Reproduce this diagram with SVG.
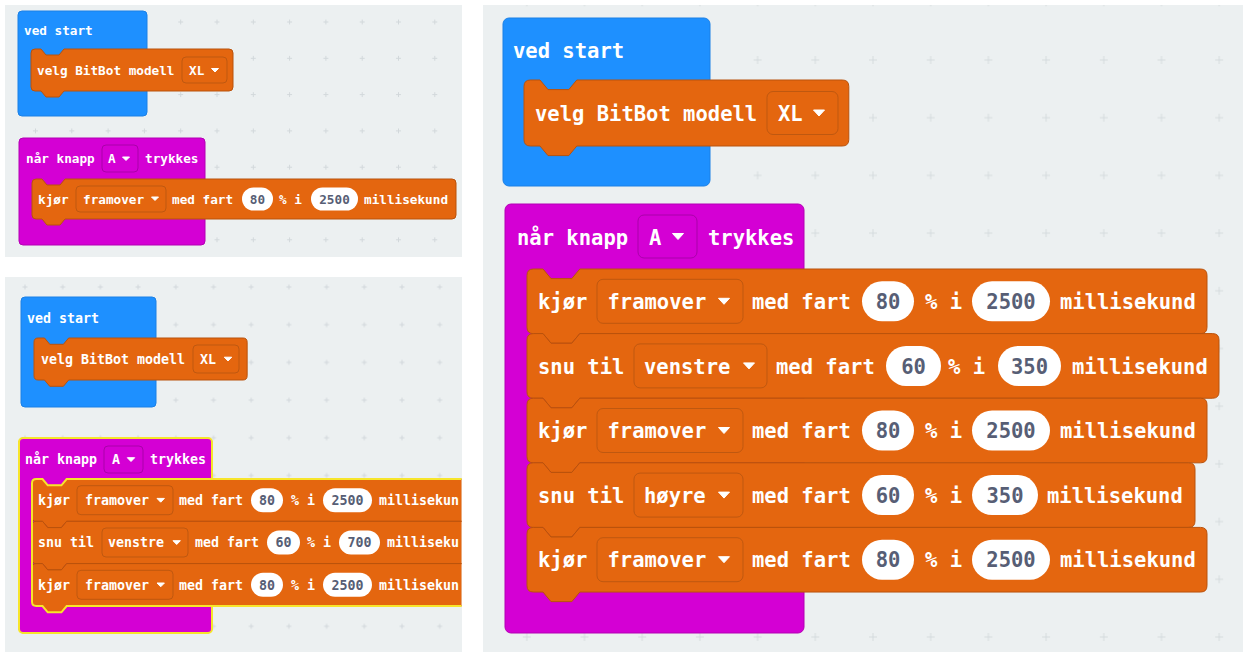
<svg xmlns="http://www.w3.org/2000/svg" width="1243" height="655" viewBox="0 0 1243 655">
<style>
.panel{fill:#ecf0f1}
.blue{fill:#1e90ff;stroke:#1b80e6;stroke-width:1}
.mag{fill:#d400d4;stroke:#b400b4;stroke-width:1}
.org{fill:#e4660f;stroke:#b9520c;stroke-width:1}
.dd{fill:#e4660f;stroke:#bf5810;stroke-width:1}
.ddm{fill:#d400d4;stroke:#aa00aa;stroke-width:1}
.oval{fill:#ffffff}
.tri{fill:#ffffff;stroke:#ffffff;stroke-linejoin:round}
.t{font-family:"DejaVu Sans Mono","Liberation Mono",monospace;font-weight:bold;fill:#ffffff}
.n{fill:#575e75;text-anchor:middle}
.f1{font-size:12.7px}
.f2{font-size:13.3px}
.f3{font-size:20.5px}
.sel{fill:none;stroke:#f7e52b;stroke-width:2}
</style>
<defs>
<pattern id="g1" patternUnits="userSpaceOnUse" x="17.35" y="3.85" width="36.3" height="36.3"><path d="M15.65,18.15h5M18.15,15.65v5" stroke="#d2d8db" stroke-width="1"/></pattern>
<pattern id="g2" patternUnits="userSpaceOnUse" x="6.15" y="268.15" width="37.7" height="37.7"><path d="M16.35,18.85h5M18.85,16.35v5" stroke="#d2d8db" stroke-width="1"/></pattern>
<pattern id="g3" patternUnits="userSpaceOnUse" x="844.15" y="31.15" width="57.7" height="57.7"><path d="M24.85,28.85h8M28.85,24.85v8" stroke="#d5dbde" stroke-width="1"/></pattern>
<clipPath id="c2"><rect x="5" y="277" width="456.5" height="375"/></clipPath>
</defs>

<rect width="1243" height="655" fill="#ffffff"/>

<!-- ===== Panel 1 ===== -->
<g id="panel-1">
<rect class="panel" x="5" y="5" width="457" height="252"/>
<rect x="5" y="5" width="457" height="252" fill="url(#g1)"/>
<g id="p1-ved-start">
<rect class="blue" x="18" y="11" width="129" height="105" rx="4"/>
<text class="t f1" x="24" y="35">ved start</text>
</g>
<g id="p1-velg">
<path class="org" transform="translate(31,49)" d="M0,4 Q0,0 4,0 H10 l5,6 h13 l5,-6 H198 Q202,0 202,4 V38 Q202,42 198,42 H33 l-5,6 h-13 l-5,-6 H4 Q0,42 0,38 Z"/>
<text class="t f1" x="37" y="74.5">velg BitBot modell</text>
<rect class="dd" x="182" y="57" width="45" height="26" rx="4"/>
<text class="t f1" x="189" y="74.5">XL</text>
<polygon class="tri" points="211.5,68.5 218.5,68.5 215,72"/>
</g>
<g id="p1-nar-knapp">
<rect class="mag" x="19" y="138" width="186" height="107" rx="4"/>
<text class="t f1" x="26" y="163">når knapp</text>
<rect class="ddm" x="102" y="145" width="36" height="27" rx="4"/>
<text class="t f1" x="108" y="163">A</text>
<polygon class="tri" points="122.5,157 129.5,157 126,160.5"/>
<text class="t f1" x="145" y="163">trykkes</text>
</g>
<g id="p1-kjor">
<path class="org" transform="translate(32,179)" d="M0,4 Q0,0 4,0 H10 l5,6 h13 l5,-6 H420 Q424,0 424,4 V36 Q424,40 420,40 H33 l-5,6 h-13 l-5,-6 H4 Q0,40 0,36 Z"/>
<text class="t f1" x="38" y="203.5">kjør</text>
<rect class="dd" x="76" y="186" width="90" height="26" rx="4"/>
<text class="t f1" x="83" y="203.5">framover</text>
<polygon class="tri" points="151.5,197 158.5,197 155,200.5"/>
<text class="t f1" x="172" y="203.5">med fart</text>
<rect class="oval" x="242" y="187.5" width="31" height="23" rx="11.5"/>
<text class="t f1 n" x="257.5" y="203.5">80</text>
<text class="t f1" x="279" y="203.5">% i</text>
<rect class="oval" x="311" y="187.5" width="47" height="23" rx="11.5"/>
<text class="t f1 n" x="334.5" y="203.5">2500</text>
<text class="t f1" x="364" y="203.5">millisekund</text>
</g>
</g>

<!-- ===== Panel 2 ===== -->
<g id="panel-2">
<rect class="panel" x="5" y="277" width="457" height="375"/>
<rect x="5" y="277" width="457" height="375" fill="url(#g2)"/>
<g clip-path="url(#c2)">
<g id="p2-ved-start">
<rect class="blue" x="21" y="297" width="135" height="110" rx="4"/>
<text class="t f2" x="27" y="323">ved start</text>
</g>
<g id="p2-velg">
<path class="org" vector-effect="non-scaling-stroke" transform="translate(34,338) scale(1.05)" d="M0,4 Q0,0 4,0 H10 l5,6 h13 l5,-6 H199 Q203,0 203,4 V36 Q203,40 199,40 H33 l-5,6 h-13 l-5,-6 H4 Q0,40 0,36 Z"/>
<text class="t f2" x="41" y="364">velg BitBot modell</text>
<rect class="dd" x="193" y="345" width="46" height="28" rx="4"/>
<text class="t f2" x="200" y="364">XL</text>
<polygon class="tri" points="224.3,357.2 231.7,357.2 228,361"/>
</g>
<g id="p2-nar-knapp">
<rect class="mag" x="19" y="438" width="193" height="195" rx="4"/>
<rect class="sel" x="19" y="438" width="193" height="195" rx="4"/>
<text class="t f2" x="25" y="463.5">når knapp</text>
<rect class="ddm" x="104" y="446" width="39" height="27" rx="4"/>
<text class="t f2" x="112" y="463.5">A</text>
<polygon class="tri" points="127.3,457.7 134.7,457.7 131,461.5"/>
<text class="t f2" x="150" y="463.5">trykkes</text>
</g>
<g id="p2-kjor-1">
<path class="org" vector-effect="non-scaling-stroke" transform="translate(32,479) scale(1.05)" d="M0,4 Q0,0 4,0 H10 l5,6 h13 l5,-6 H426 Q430,0 430,4 V36.3 Q430,40.3 426,40.3 H33 l-5,6 h-13 l-5,-6 H4 Q0,40.3 0,36.3 Z"/>
<text class="t f2" x="38" y="505">kjør</text>
<rect class="dd" x="77" y="485.7" width="96" height="29" rx="4"/>
<text class="t f2" x="85" y="505">framover</text>
<polygon class="tri" points="157,498.4 164.4,498.4 160.7,502.2"/>
<text class="t f2" x="179" y="505">med fart</text>
<rect class="oval" x="251" y="488.2" width="32" height="24" rx="12"/>
<text class="t f2 n" x="267" y="505">80</text>
<text class="t f2" x="291" y="505">% i</text>
<rect class="oval" x="323" y="488.2" width="49" height="24" rx="12"/>
<text class="t f2 n" x="347.5" y="505">2500</text>
<text class="t f2" x="379" y="505">millisekun</text>
</g>
<g id="p2-snu-venstre">
<path class="org" vector-effect="non-scaling-stroke" transform="translate(32,521.3) scale(1.05)" d="M0,4 Q0,0 4,0 H10 l5,6 h13 l5,-6 H426 Q430,0 430,4 V36.3 Q430,40.3 426,40.3 H33 l-5,6 h-13 l-5,-6 H4 Q0,40.3 0,36.3 Z"/>
<text class="t f2" x="38" y="547.3">snu til</text>
<rect class="dd" x="102" y="528" width="86" height="29" rx="4"/>
<text class="t f2" x="108" y="547.3">venstre</text>
<polygon class="tri" points="173,540.7 180.4,540.7 176.7,544.5"/>
<text class="t f2" x="195" y="547.3">med fart</text>
<rect class="oval" x="267" y="530.5" width="33" height="24" rx="12"/>
<text class="t f2 n" x="283.5" y="547.3">60</text>
<text class="t f2" x="307" y="547.3">% i</text>
<rect class="oval" x="339" y="530.5" width="41" height="24" rx="12"/>
<text class="t f2 n" x="359.5" y="547.3">700</text>
<text class="t f2" x="387" y="547.3">milliseku</text>
</g>
<g id="p2-kjor-2">
<path class="org" vector-effect="non-scaling-stroke" transform="translate(32,563.6) scale(1.05)" d="M0,4 Q0,0 4,0 H10 l5,6 h13 l5,-6 H426 Q430,0 430,4 V36.3 Q430,40.3 426,40.3 H33 l-5,6 h-13 l-5,-6 H4 Q0,40.3 0,36.3 Z"/>
<text class="t f2" x="38" y="589.6">kjør</text>
<rect class="dd" x="77" y="570.3" width="96" height="29" rx="4"/>
<text class="t f2" x="85" y="589.6">framover</text>
<polygon class="tri" points="157,583 164.4,583 160.7,586.8"/>
<text class="t f2" x="179" y="589.6">med fart</text>
<rect class="oval" x="251" y="572.8" width="32" height="24" rx="12"/>
<text class="t f2 n" x="267" y="589.6">80</text>
<text class="t f2" x="291" y="589.6">% i</text>
<rect class="oval" x="323" y="572.8" width="49" height="24" rx="12"/>
<text class="t f2 n" x="347.5" y="589.6">2500</text>
<text class="t f2" x="379" y="589.6">millisekun</text>
</g>
<path class="sel" vector-effect="non-scaling-stroke" transform="translate(32,479) scale(1.05)" d="M440,0 H33 l-5,6 h-13 l-5,-6 H4 Q0,0 0,4 V116.95 Q0,120.95 4,120.95 H10 l5,6 h13 l5,-6 H440"/>
</g>
</g>

<!-- ===== Panel 3 ===== -->
<g id="panel-3">
<rect class="panel" x="483" y="5" width="760" height="647"/>
<rect x="483" y="5" width="760" height="647" fill="url(#g3)"/>
<g id="p3-ved-start">
<rect class="blue" x="503" y="18" width="207" height="168" rx="6"/>
<text class="t f3" x="513" y="57.5">ved start</text>
</g>
<g id="p3-velg">
<path class="org" vector-effect="non-scaling-stroke" transform="translate(524,80) scale(1.6)" d="M0,4 Q0,0 4,0 H10 l5,6 h13 l5,-6 H199 Q203,0 203,4 V37.25 Q203,41.25 199,41.25 H33 l-5,6 h-13 l-5,-6 H4 Q0,41.25 0,37.25 Z"/>
<text class="t f3" x="535" y="120.5">velg BitBot modell</text>
<rect class="dd" x="767" y="91.5" width="71" height="43" rx="6"/>
<text class="t f3" x="778" y="120.5">XL</text>
<polygon class="tri" points="813.5,110 824.5,110 819,116"/>
</g>
<g id="p3-nar-knapp">
<rect class="mag" x="505" y="204" width="299" height="429" rx="6"/>
<text class="t f3" x="517" y="244.5">når knapp</text>
<rect class="ddm" x="638" y="215" width="59" height="43" rx="6"/>
<text class="t f3" x="649" y="244.5">A</text>
<polygon class="tri" points="672.5,233.5 683.5,233.5 678,239.5"/>
<text class="t f3" x="708" y="244.5">trykkes</text>
</g>
<g id="p3-kjor-1">
<path class="org" vector-effect="non-scaling-stroke" transform="translate(527,269) scale(1.6)" d="M0,4 Q0,0 4,0 H10 l5,6 h13 l5,-6 H421 Q425,0 425,4 V36.4 Q425,40.4 421,40.4 H33 l-5,6 h-13 l-5,-6 H4 Q0,40.4 0,36.4 Z"/>
<text class="t f3" x="538" y="309">kjør</text>
<rect class="dd" x="597" y="279.3" width="146" height="44" rx="6"/>
<text class="t f3" x="607.5" y="309">framover</text>
<polygon class="tri" points="718.5,298.3 729.5,298.3 724,304.3"/>
<text class="t f3" x="752" y="309">med fart</text>
<rect class="oval" x="862" y="281.3" width="52" height="40" rx="20"/>
<text class="t f3 n" x="888" y="309">80</text>
<text class="t f3" x="925" y="309">% i</text>
<rect class="oval" x="972" y="281.3" width="78" height="40" rx="20"/>
<text class="t f3 n" x="1011" y="309">2500</text>
<text class="t f3" x="1060" y="309">millisekund</text>
</g>
<g id="p3-snu-venstre">
<path class="org" vector-effect="non-scaling-stroke" transform="translate(527,333.6) scale(1.6)" d="M0,4 Q0,0 4,0 H10 l5,6 h13 l5,-6 H428.5 Q432.5,0 432.5,4 V36.4 Q432.5,40.4 428.5,40.4 H33 l-5,6 h-13 l-5,-6 H4 Q0,40.4 0,36.4 Z"/>
<text class="t f3" x="538" y="373.6">snu til</text>
<rect class="dd" x="634" y="343.9" width="133" height="44" rx="6"/>
<text class="t f3" x="644" y="373.6">venstre</text>
<polygon class="tri" points="743.5,362.9 754.5,362.9 749,368.9"/>
<text class="t f3" x="776" y="373.6">med fart</text>
<rect class="oval" x="886" y="345.9" width="55" height="40" rx="20"/>
<text class="t f3 n" x="913.5" y="373.6">60</text>
<text class="t f3" x="948" y="373.6">% i</text>
<rect class="oval" x="998" y="345.9" width="63" height="40" rx="20"/>
<text class="t f3 n" x="1029.5" y="373.6">350</text>
<text class="t f3" x="1072" y="373.6">millisekund</text>
</g>
<g id="p3-kjor-2">
<path class="org" vector-effect="non-scaling-stroke" transform="translate(527,398.2) scale(1.6)" d="M0,4 Q0,0 4,0 H10 l5,6 h13 l5,-6 H421 Q425,0 425,4 V36.4 Q425,40.4 421,40.4 H33 l-5,6 h-13 l-5,-6 H4 Q0,40.4 0,36.4 Z"/>
<text class="t f3" x="538" y="438.2">kjør</text>
<rect class="dd" x="597" y="408.5" width="146" height="44" rx="6"/>
<text class="t f3" x="607.5" y="438.2">framover</text>
<polygon class="tri" points="718.5,427.5 729.5,427.5 724,433.5"/>
<text class="t f3" x="752" y="438.2">med fart</text>
<rect class="oval" x="862" y="410.5" width="52" height="40" rx="20"/>
<text class="t f3 n" x="888" y="438.2">80</text>
<text class="t f3" x="925" y="438.2">% i</text>
<rect class="oval" x="972" y="410.5" width="78" height="40" rx="20"/>
<text class="t f3 n" x="1011" y="438.2">2500</text>
<text class="t f3" x="1060" y="438.2">millisekund</text>
</g>
<g id="p3-snu-hoyre">
<path class="org" vector-effect="non-scaling-stroke" transform="translate(527,462.8) scale(1.6)" d="M0,4 Q0,0 4,0 H10 l5,6 h13 l5,-6 H413.5 Q417.5,0 417.5,4 V36.4 Q417.5,40.4 413.5,40.4 H33 l-5,6 h-13 l-5,-6 H4 Q0,40.4 0,36.4 Z"/>
<text class="t f3" x="538" y="502.8">snu til</text>
<rect class="dd" x="634" y="473.1" width="109" height="44" rx="6"/>
<text class="t f3" x="644" y="502.8">høyre</text>
<polygon class="tri" points="718.5,492.1 729.5,492.1 724,498.1"/>
<text class="t f3" x="752" y="502.8">med fart</text>
<rect class="oval" x="862" y="475.1" width="52" height="40" rx="20"/>
<text class="t f3 n" x="888" y="502.8">60</text>
<text class="t f3" x="925" y="502.8">% i</text>
<rect class="oval" x="972" y="475.1" width="66" height="40" rx="20"/>
<text class="t f3 n" x="1005" y="502.8">350</text>
<text class="t f3" x="1047" y="502.8">millisekund</text>
</g>
<g id="p3-kjor-3">
<path class="org" vector-effect="non-scaling-stroke" transform="translate(527,527.4) scale(1.6)" d="M0,4 Q0,0 4,0 H10 l5,6 h13 l5,-6 H421 Q425,0 425,4 V36.4 Q425,40.4 421,40.4 H33 l-5,6 h-13 l-5,-6 H4 Q0,40.4 0,36.4 Z"/>
<text class="t f3" x="538" y="567.4">kjør</text>
<rect class="dd" x="597" y="537.7" width="146" height="44" rx="6"/>
<text class="t f3" x="607.5" y="567.4">framover</text>
<polygon class="tri" points="718.5,556.7 729.5,556.7 724,562.7"/>
<text class="t f3" x="752" y="567.4">med fart</text>
<rect class="oval" x="862" y="539.7" width="52" height="40" rx="20"/>
<text class="t f3 n" x="888" y="567.4">80</text>
<text class="t f3" x="925" y="567.4">% i</text>
<rect class="oval" x="972" y="539.7" width="78" height="40" rx="20"/>
<text class="t f3 n" x="1011" y="567.4">2500</text>
<text class="t f3" x="1060" y="567.4">millisekund</text>
</g>
</g>
</svg>
